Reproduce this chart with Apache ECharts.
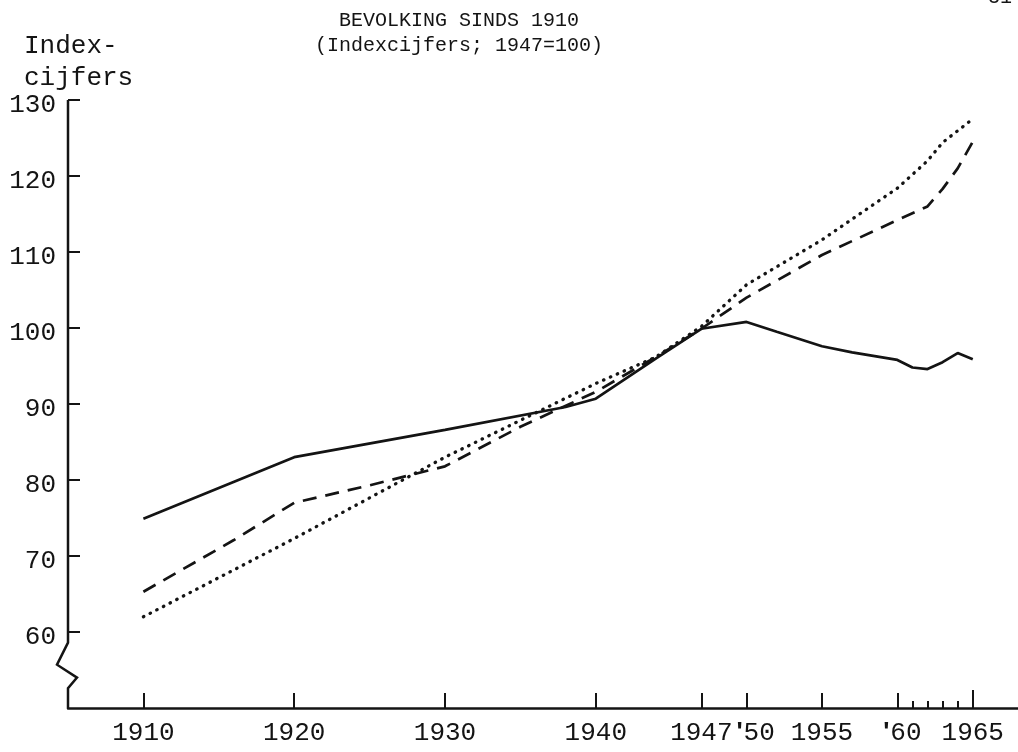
<!DOCTYPE html>
<html><head><meta charset="utf-8">
<script src="https://cdn.jsdelivr.net/npm/echarts@6/dist/echarts.min.js"></script>
<style>html,body{margin:0;padding:0;background:#fff}#c{width:1018px;height:752px}</style>
</head><body><div id="c"></div>
<script>
// ---- data ----
const solidYears = [1910, 1920, 1930, 1938, 1940, 1944, 1947, 1950, 1952, 1955, 1957, 1960, 1961, 1962, 1963, 1964, 1965];
const solidVals  = [74.9, 83.0, 86.6, 89.6, 90.7, 96.0, 99.9, 100.8, 99.5, 97.6, 96.8, 95.8, 94.8, 94.6, 95.5, 96.7, 95.9];

const dashYears = [1910, 1916, 1920, 1925, 1930, 1935, 1940, 1944, 1947, 1950, 1955, 1960, 1962, 1963, 1964, 1965];
const dashVals  = [65.3, 72.1, 77.0, 79.3, 81.8, 87.0, 91.6, 96.2, 99.9, 104.0, 109.6, 114.2, 116.0, 118.3, 121.0, 124.5];

const dotYears = [1910, 1920, 1930, 1940, 1944, 1947, 1950, 1955, 1960, 1962, 1963, 1965];
const dotVals  = [62.0, 72.3, 83.0, 92.7, 96.2, 100.2, 105.7, 111.6, 118.4, 122.0, 124.4, 127.5];

const xLabelValues = [1910, 1920, 1930, 1940, 1947, 1950, 1955, 1960, 1965];
const xLabels      = ['1910', '1920', '1930', '1940', '1947', "'50", '1955', "'60", '1965'];
const xMajorTicks  = [1910, 1920, 1930, 1940, 1947, 1950, 1955, 1960];
const xMinorTicks  = [1961, 1962, 1963, 1964];
const xEndTicks    = [1965];
const yTicks       = [60, 70, 80, 90, 100, 110, 120, 130];
const titleLines   = ['BEVOLKING SINDS 1910', '(Indexcijfers; 1947=100)'];
const yNameLines   = ['Index-', 'cijfers'];
const pageNumber   = '31';

// ---- chart ----
const INK = '#141414';
const FONT = '"Liberation Mono", "DejaVu Sans Mono", monospace';
const labelMap = {};
xLabelValues.forEach((t, i) => labelMap[t] = xLabels[i]);
const pairs = (xs, ys) => xs.map((x, i) => [x, ys[i]]);
const tickAxis = (vals, len) => ({
  type: 'value', min: 1905, max: 1968, position: 'bottom', offset: 0,
  axisLine: {show: false},
  axisTick: {show: true, inside: true, length: len, customValues: vals, lineStyle: {color: INK, width: 2}},
  axisLabel: {show: false},
  splitLine: {show: false}
});
const apStyle = pad => ({fontFamily: '"Liberation Sans", sans-serif', fontWeight: 'bold', fontSize: 26, color: INK, padding: [0, 1, 0, pad]});

const chart = echarts.init(document.getElementById('c'), null, {renderer: 'canvas'});
const option = {
  animation: false,
  backgroundColor: '#fff',
  grid: {left: 68, right: 0, top: 100, bottom: 44},
  xAxis: [{
    type: 'value', min: 1905, max: 1968, position: 'bottom',
    axisLine: {show: true, lineStyle: {color: INK, width: 2.5}},
    axisTick: {show: true, inside: true, length: 15, customValues: xMajorTicks, lineStyle: {color: INK, width: 2}},
    axisLabel: {
      customValues: xLabelValues,
      formatter: v => {
        const t = labelMap[v] || '';
        if (t.charAt(0) === "'") {
          const ap = v === 1950 ? 'a1' : 'a2';
          return '{' + ap + '|\'}{n|' + t.slice(1) + '}';
        }
        return t;
      },
      rich: {
        a1: apStyle(18),
        a2: apStyle(10),
        n: {fontFamily: FONT, fontSize: 26, color: INK}
      },
      fontFamily: FONT, fontSize: 26, color: INK, margin: 12
    },
    splitLine: {show: false}
  }, tickAxis(xMinorTicks, 7), tickAxis(xEndTicks, 18)],
  yAxis: {
    type: 'value', min: 50, max: 130,
    axisLine: {show: false},
    axisTick: {show: true, inside: true, length: 12, customValues: yTicks, lineStyle: {color: INK, width: 2}},
    axisLabel: {
      customValues: yTicks, margin: 12,
      formatter: v => '{v|' + v + '}',
      rich: {v: {fontFamily: FONT, fontSize: 26, color: INK, padding: [10, 0, 0, 0]}}
    },
    splitLine: {show: false}
  },
  series: [{
    type: 'line', data: pairs(solidYears, solidVals), symbol: 'none',
    lineStyle: {color: INK, width: 2.7}
  }, {
    type: 'line', data: pairs(dashYears, dashVals), symbol: 'none',
    lineStyle: {color: INK, width: 2.7, type: [14, 9]}
  }, {
    type: 'line', data: pairs(dotYears, dotVals), symbol: 'none',
    lineStyle: {color: INK, width: 3.3, type: [0.5, 7], cap: 'round'}
  }]
};
chart.setOption(option);

// decorations: titles, y-axis name, y-axis line with break symbol
const toPx = (x, y) => chart.convertToPixel({gridIndex: 0}, [x, y]);
const axTop = toPx(1905, 130), ax60 = toPx(1905, 60), axBottom = toPx(1905, 50);
const ax = axTop[0];
const brk = [[0, 58.6], [-11, 55.7], [9, 54.0], [0, 52.6]];
const axisPts = [axTop, ax60].concat(brk.map(b => [ax + b[0], toPx(1905, b[1])[1]])).concat([axBottom]);

const graphics = [
  {type: 'polyline', shape: {points: axisPts}, style: {stroke: INK, lineWidth: 2.5, fill: null}, z: 10},
  {type: 'text', x: 459, y: 21, style: {text: titleLines[0], font: '20px ' + FONT, fill: INK, align: 'center', verticalAlign: 'middle'}},
  {type: 'text', x: 459, y: 46, style: {text: titleLines[1], font: '20px ' + FONT, fill: INK, align: 'center', verticalAlign: 'middle'}},
  {type: 'text', x: 24, y: 46, style: {text: yNameLines[0], font: '26px ' + FONT, fill: INK, align: 'left', verticalAlign: 'middle'}},
  {type: 'text', x: 24, y: 78, style: {text: yNameLines[1], font: '26px ' + FONT, fill: INK, align: 'left', verticalAlign: 'middle'}},
  {type: 'text', x: 988, y: 8, style: {text: pageNumber, font: '20px ' + FONT, fill: INK, align: 'left', verticalAlign: 'bottom'}}
];
chart.setOption({graphic: graphics});
</script>
</body></html>
